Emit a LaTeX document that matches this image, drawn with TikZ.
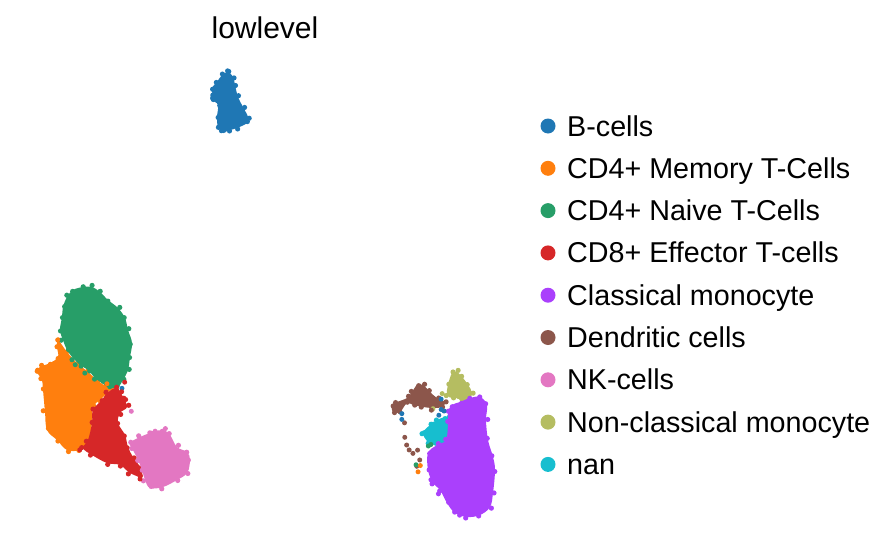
\documentclass[tikz,border=0pt]{standalone}
\usepackage{fontspec}
\setmainfont{Liberation Sans}

\definecolor{cB}{HTML}{1F77B4}
\definecolor{cMem}{HTML}{FF7F0E}
\definecolor{cNaive}{HTML}{279E68}
\definecolor{cCD8}{HTML}{D62728}
\definecolor{cMono}{HTML}{AA40FC}
\definecolor{cDC}{HTML}{8C564B}
\definecolor{cNK}{HTML}{E377C2}
\definecolor{cNonMono}{HTML}{B5BD61}
\definecolor{cNan}{HTML}{17BECF}

% one cluster of cells: colour, outline as x/y pairs
\newcommand{\cellblob}[2]{%
  \gdef\blobpts{}%
  \foreach \x/\y in {#2}{\xdef\blobpts{\blobpts(\x,\y)}}%
  \edef\blobcmd{\noexpand\fill[fill=#1] plot[smooth cycle, tension=0.6] coordinates {\blobpts};}%
  \blobcmd
  \foreach \x/\y in {#2}{\fill[#1] ({\x+1.8*rand},{\y+1.8*rand}) circle (2.6pt);}%
}

\begin{document}
\begin{tikzpicture}[x=1pt, y=-1pt,
        dot_style/.style={circle, inner sep=0pt, minimum size=5pt},
        marker_style/.style={circle, inner sep=0pt, minimum size=15pt},
        legend_style/.style={inner sep=0pt, font=\fontsize{28.7}{33}\selectfont},
        title_style/.style={inner sep=0pt, font=\fontsize{30}{35}\selectfont}]
        \pgfmathsetseed{11}
        \useasboundingbox (0,0) rectangle (896,554);

        \node [title_style, anchor=base](title) at (265,38) {lowlevel};

        % B-cells
        \cellblob{cB}{228/72, 222/75, 217/82, 212/88, 213/97, 212/100, 218/105, 217/117, 218/127, 223/132, 230/130, 237/128, 247/123, 248/117, 243/107, 238/97, 235/85, 233/77}

        % CD4+ memory
        \cellblob{cMem}{58/340, 57/347, 58/357, 50/363, 40/367, 37/372, 42/380, 43/390, 45/412, 47/430, 57/440, 67/450, 80/450, 88/443, 92/423, 93/407, 100/400, 107/393, 112/388, 107/387, 97/380, 88/372, 77/363, 67/352}

        % CD4+ naive
        \cellblob{cNaive}{83/287, 73/290, 67/297, 63/307, 62/317, 60/330, 63/340, 67/350, 73/358, 80/365, 88/370, 95/378, 102/383, 110/388, 118/387, 123/380, 128/370, 130/357, 132/343, 128/330, 125/318, 118/308, 108/300, 100/292, 92/287}

        % CD8+ effector
        \cellblob{cCD8}{102/400, 107/393, 117/388, 123/397, 127/407, 120/413, 118/423, 125/435, 128/447, 133/457, 140/467, 142/477, 130/473, 120/465, 107/463, 92/455, 83/448, 88/440, 92/423, 93/410}

        % dendritic
        \cellblob{cDC}{392/405, 393/412, 400/412, 407/403, 413/405, 423/407, 433/408, 442/407, 445/402, 437/398, 430/392, 423/385, 417/385, 412/392, 407/398, 397/402}

        % NK-cells
        \cellblob{cNK}{130/443, 140/437, 153/432, 163/430, 170/435, 177/447, 187/452, 190/460, 187/473, 177/480, 163/487, 150/488, 145/480, 142/470, 138/460, 133/450}

        % non-classical monocyte
        \cellblob{cNonMono}{452/373, 457/372, 463/378, 468/385, 472/393, 468/403, 463/405, 458/398, 452/398, 447/395, 448/385}

        % nan
        \cellblob{cNan}{423/433, 430/425, 437/420, 445/417, 450/418, 452/432, 450/443, 443/447, 435/445, 428/442}

        % classical monocyte
        \cellblob{cMono}{460/402, 470/398, 480/397, 487/405, 486/420, 488/440, 493/457, 495/470, 493/493, 490/507, 480/515, 467/517, 455/513, 447/503, 440/490, 433/483, 428/470, 428/453, 437/445, 446/440, 448/423, 448/412, 452/405}

        % stray cells
        \foreach \px/\py/\col [count=\k] in {122/388/cB, 131/411/cNK, 125/382/cCD8, 122/392/cCD8, 126/400/cCD8, 107/384/cMem,
                58/340/cMem, 38/370/cMem, 80/450/cCD8, 150/433/cNK, 155/431/cNK, 165/429/cNK, 187/468/cNK, 140/479/cCD8,
                228/71/cB, 221/131/cB, 213/95/cB, 75/365/cNaive, 85/373/cNaive,
                405/437/cDC, 407/445/cDC, 409/450/cDC, 413/453/cDC, 418/450/cDC, 420/460/cDC, 417/466/cDC, 405/423/cDC, 400/412/cDC,
                402/414/cB, 402/419/cB, 441/399/cB, 444/411/cB, 439/415/cB, 441/410/cB, 433/424/cNan, 424/433/cNan,
                428/446/cNaive, 431/444/cNaive, 416/465/cNaive, 420/466/cMem, 418/472/cMem,
                442/394/cNonMono, 433/409/cNonMono, 431/410/cDC, 433/483/cMono, 431/480/cMono, 438/494/cMono, 460/515/cMono} {
            \node [dot_style, fill=\col] (s\k) at ({\px+rand*0.5},{\py+rand*0.5}) {};
        }

        % legend
        \foreach \lab/\col [count=\i from 0] in {B-cells/cB, CD4+ Memory T-Cells/cMem, CD4+ Naive T-Cells/cNaive,
                CD8+ Effector T-cells/cCD8, Classical monocyte/cMono, Dendritic cells/cDC, NK-cells/cNK,
                Non-classical monocyte/cNonMono, nan/cNan} {
            \node [marker_style, fill=\col](m\i) at (548,{126+42.3*\i}) {};
            \node [legend_style, anchor=base west](l\i) at (567,{136+42.3*\i}) {\lab};
        }
\end{tikzpicture}
\end{document}
